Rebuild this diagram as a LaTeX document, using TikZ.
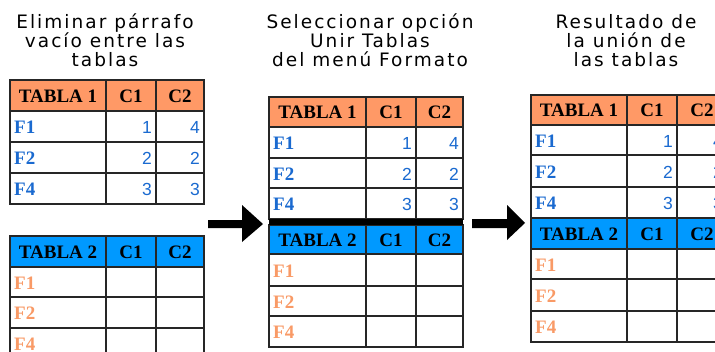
\documentclass[tikz,border=0pt]{standalone}
\usepackage{fontspec}
\setmainfont{Liberation Serif}
\newfontfamily\titlefont[LetterSpace=11]{DejaVu Sans}
\newfontfamily\numfont{Liberation Sans}
\usetikzlibrary{calc}
\definecolor{hdrorange}{HTML}{FF9966}
\definecolor{hdrblue}{HTML}{0099FF}
\definecolor{txtblue}{HTML}{1A6AD0}
\definecolor{txtorange}{HTML}{F99A66}
\definecolor{gridc}{HTML}{262626}
\tikzset{
  cellbox/.style={draw=gridc, line width=1.6pt, inner sep=0pt, outer sep=0pt},
  hdrtext/.style={inner sep=0pt, font=\fontsize{19}{19}\selectfont\bfseries, text=black},
  flabel/.style={inner sep=0pt, font=\fontsize{19}{19}\selectfont\bfseries},
  numtext/.style={inner sep=0pt, font=\numfont\fontsize{17.5}{17.5}\selectfont, text=txtblue},
  ttl/.style={inner sep=0pt, font=\titlefont\fontsize{18.5}{18.5}\selectfont, text=black, anchor=base},
  blockarrow/.style={fill=black, draw=none}
}
\newcommand\cell[6]{%
  \node[cellbox, fill=#6, minimum width={#4pt-#2pt}, minimum height={#5pt-#3pt}] (#1) at ({(#2+#4)/2},{(#3+#5)/2}) {};}
\newcommand\hrow[5]{%
  \cell{#1a}{\xa}{#2}{\xb}{#3}{#4}
  \cell{#1b}{\xb}{#2}{\xc}{#3}{#4}
  \cell{#1c}{\xc}{#2}{\xd}{#3}{#4}
  \node[hdrtext, anchor=base] (#1at) at ($(#1a.center)+(0,6.5)$) {#5};
  \node[hdrtext, anchor=base] (#1bt) at ($(#1b.center)+(0,6.5)$) {C1};
  \node[hdrtext, anchor=base] (#1ct) at ($(#1c.center)+(0,6.5)$) {C2};}
\newcommand\drow[7]{%
  \cell{#1a}{\xa}{#2}{\xb}{#3}{white}
  \cell{#1b}{\xb}{#2}{\xc}{#3}{white}
  \cell{#1c}{\xc}{#2}{\xd}{#3}{white}
  \node[flabel, text=#5, anchor=base west] (#1at) at ($(#1a.west)+(4,7)$) {#4};
  \node[numtext, anchor=base east] (#1bt) at ($(#1b.east)+(-4,7)$) {#6};
  \node[numtext, anchor=base east] (#1ct) at ($(#1c.east)+(-4,7)$) {#7};}
\begin{document}
\begin{tikzpicture}[x=1pt,y=-1pt]
\useasboundingbox (0,0) rectangle (715,351);
\clip (0,0) rectangle (715,351);
\fill[white] (0,0) rectangle (715,351);
% titles
\node[ttl] (t1a) at (105,28) {Eliminar párrafo};
\node[ttl] (t1b) at (105,47) {vacío entre las};
\node[ttl] (t1c) at (105,66) {tablas};
\node[ttl] (t2a) at (370,28) {Seleccionar opción};
\node[ttl] (t2b) at (370,47) {Unir Tablas};
\node[ttl] (t2c) at (370,66) {del menú Formato};
\node[ttl] (t3a) at (626,28) {Resultado de};
\node[ttl] (t3b) at (626,47) {la unión de};
\node[ttl] (t3c) at (626,66) {las tablas};
% left tables
\def\xa{10}\def\xb{106}\def\xc{156}\def\xd{204}
\hrow{La}{80}{111}{hdrorange}{TABLA 1}
\drow{Lb}{111}{142}{F1}{txtblue}{1}{4}
\drow{Lc}{142}{173}{F2}{txtblue}{2}{2}
\drow{Ld}{173}{204}{F4}{txtblue}{3}{3}
\hrow{Le}{236}{267}{hdrblue}{TABLA 2}
\drow{Lf}{267}{297}{F1}{txtorange}{}{}
\drow{Lg}{297}{328}{F2}{txtorange}{}{}
\drow{Lh}{328}{359}{F4}{txtorange}{}{}
% middle tables
\def\xa{269}\def\xb{366}\def\xc{416}\def\xd{463}
\hrow{Ma}{97}{127}{hdrorange}{TABLA 1}
\drow{Mb}{127}{158}{F1}{txtblue}{1}{4}
\drow{Mc}{158}{188}{F2}{txtblue}{2}{2}
\drow{Md}{188}{219}{F4}{txtblue}{3}{3}
\hrow{Me}{225}{254}{hdrblue}{TABLA 2}
\drow{Mf}{254}{286}{F1}{txtorange}{}{}
\drow{Mg}{286}{316}{F2}{txtorange}{}{}
\drow{Mh}{316}{347}{F4}{txtorange}{}{}
\fill[black] (Mda.south west) rectangle ([yshift=-6pt]Mdc.south east);
% right tables
\def\xa{531}\def\xb{627}\def\xc{677}\def\xd{727}
\hrow{Ra}{95}{125}{hdrorange}{TABLA 1}
\drow{Rb}{125}{155}{F1}{txtblue}{1}{4}
\drow{Rc}{155}{187}{F2}{txtblue}{2}{2}
\drow{Rd}{187}{218}{F4}{txtblue}{3}{3}
\hrow{Re}{218}{249}{hdrblue}{TABLA 2}
\drow{Rf}{249}{279}{F1}{txtorange}{}{}
\drow{Rg}{279}{311}{F2}{txtorange}{}{}
\drow{Rh}{311}{342}{F4}{txtorange}{}{}
% block arrows
\fill[blockarrow] (208,220) -- (242,220) -- (242,205) -- (263,224) -- (242,242) -- (242,228) -- (208,228) -- cycle;
\fill[blockarrow] (472,219) -- (507,219) -- (507,205) -- (525,223) -- (507,240) -- (507,228) -- (472,228) -- cycle;
\end{tikzpicture}
\end{document}
